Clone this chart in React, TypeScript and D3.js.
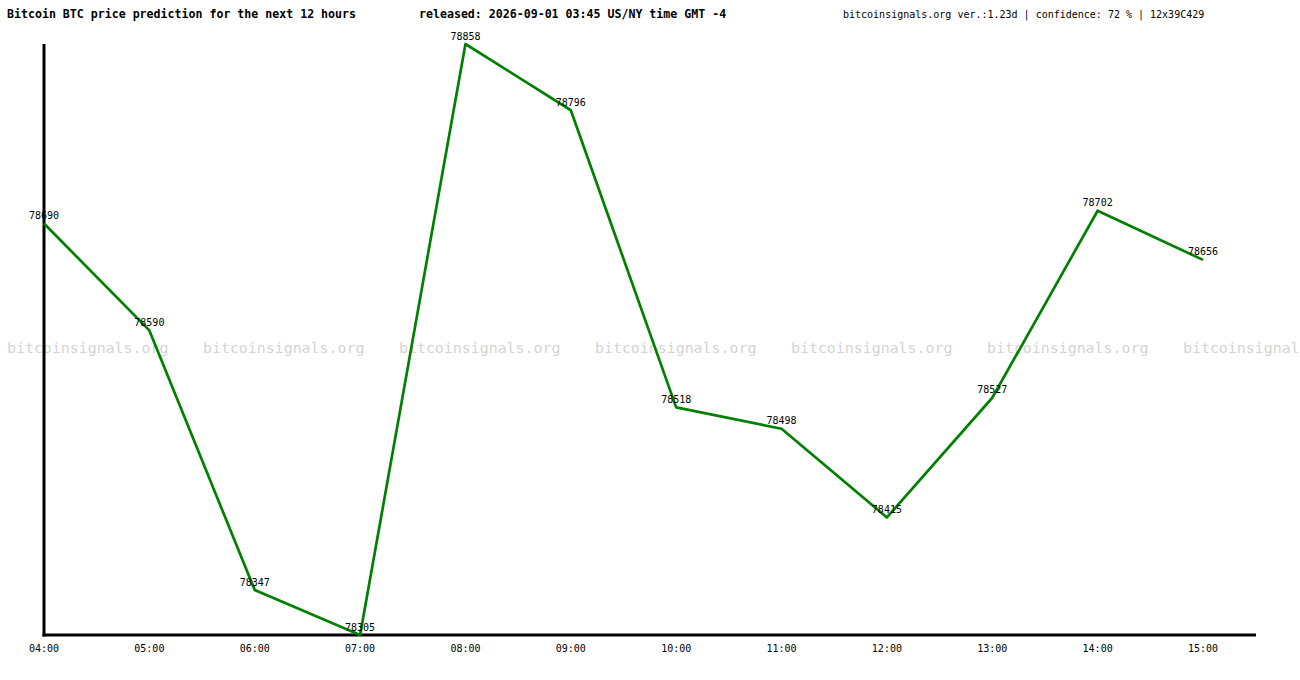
import React from 'react';
import * as d3 from 'd3';

// ─── Data ───────────────────────────────────────────────────

const hours = ['04:00', '05:00', '06:00', '07:00', '08:00', '09:00', '10:00', '11:00', '12:00', '13:00', '14:00', '15:00'];
const prices = [78690, 78590, 78347, 78305, 78858, 78796, 78518, 78498, 78415, 78527, 78702, 78656];

const TITLE = 'Bitcoin BTC price prediction for the next 12 hours';
const RELEASED = 'released: 2026-09-01 03:45 US/NY time GMT -4';
const INFO = 'bitcoinsignals.org ver.:1.23d | confidence: 72 % | 12x39C429';
const WATERMARK = 'bitcoinsignals.org';

// ─── Layout ─────────────────────────────────────────────────

const W = 1300;
const H = 680;
const PLOT = { left: 44, right: 1203, top: 44, bottom: 635, axisEnd: 1256 };
const MONO = '"DejaVu Sans Mono", "Liberation Mono", monospace';
const WM_SIZE = 14.9;
const WM_CHAR = WM_SIZE * 0.602;

export default function App() {
  const x = d3.scalePoint<string>().domain(hours).range([PLOT.left, PLOT.right]);
  const y = d3.scaleLinear()
    .domain([d3.min(prices) as number, d3.max(prices) as number])
    .range([PLOT.bottom, PLOT.top]);

  const pts = hours.map((h, i) => ({ h, v: prices[i] }));
  const lineGen = d3.line<{ h: string; v: number }>()
    .x((d) => x(d.h) as number)
    .y((d) => y(d.v));

  // watermark repeats across the plot; the last copy is cut at the page edge
  const marks = d3.range(7).map((i) => {
    const mx = 7 + i * 196;
    const fit = Math.floor((W - mx) / WM_CHAR);
    return { mx, label: WATERMARK.slice(0, fit) };
  });

  return (
    <svg
      width={W}
      height={H}
      style={{ position: 'absolute', left: 0, top: 0, background: '#fff' }}
    >
      {/* Header */}
      <text x={7} y={18} fontFamily={MONO} fontSize={11.6} fontWeight="bold" fill="#000">{TITLE}</text>
      <text x={419} y={18} fontFamily={MONO} fontSize={11.6} fontWeight="bold" fill="#000">{RELEASED}</text>
      <text x={843} y={18} fontFamily={MONO} fontSize={10} fill="#000">{INFO}</text>

      {/* Watermark */}
      {marks.map((m) => (
        <text key={m.mx} x={m.mx} y={353} fontFamily={MONO} fontSize={WM_SIZE} fill="#d4d4d4">{m.label}</text>
      ))}

      {/* Axes */}
      <line x1={PLOT.left} x2={PLOT.left} y1={PLOT.top} y2={PLOT.bottom + 1.5} stroke="#000" strokeWidth={3} />
      <line x1={PLOT.left - 1.5} x2={PLOT.axisEnd} y1={PLOT.bottom} y2={PLOT.bottom} stroke="#000" strokeWidth={3} />

      {/* Price line */}
      <path d={lineGen(pts) ?? ''} fill="none" stroke="#008000" strokeWidth={2.7} strokeLinejoin="round" />

      {/* Value labels */}
      {pts.map((d) => (
        <text
          key={d.h}
          x={x(d.h) as number}
          y={y(d.v) - 4.5}
          textAnchor="middle"
          fontFamily={MONO}
          fontSize={10}
          fill="#000"
        >
          {d.v}
        </text>
      ))}

      {/* X tick labels */}
      {hours.map((h) => (
        <text
          key={h}
          x={x(h) as number}
          y={652}
          textAnchor="middle"
          fontFamily={MONO}
          fontSize={10}
          fill="#000"
        >
          {h}
        </text>
      ))}
    </svg>
  );
}
